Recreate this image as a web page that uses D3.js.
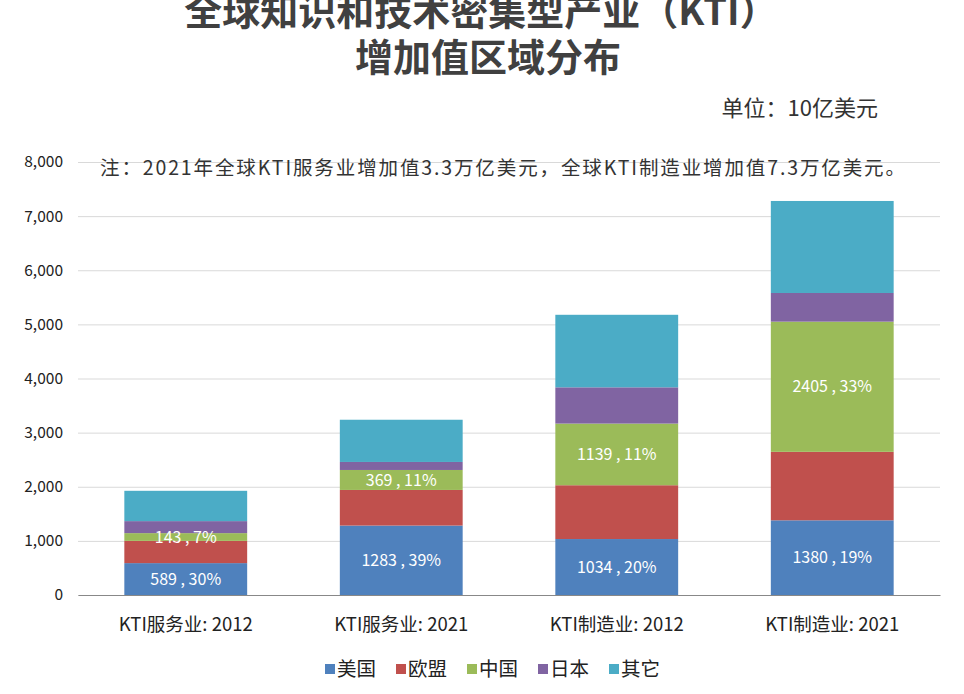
<!DOCTYPE html>
<html>
<head>
<meta charset="utf-8">
<script src="https://cdn.jsdelivr.net/npm/d3@7"></script>
<style>
  body { margin: 0; background: #fff; }
  text { font-family: "Noto Sans CJK SC", "Noto Sans", sans-serif; }
</style>
</head>
<body>
<div id="chart"></div>
<script>
// categories and series (unit: 10亿美元)
var categories = ["KTI服务业: 2012", "KTI服务业: 2021", "KTI制造业: 2012", "KTI制造业: 2021"];
var regions = ["美国", "欧盟", "中国", "日本", "其它"];
var usValues = [589, 1283, 1034, 1380];
var euValues = [411, 658, 994, 1265];
var cnValues = [143, 369, 1139, 2405];
var jpValues = [222, 148, 670, 530];
var otherValues = [560, 780, 1340, 1700];
var usShare = ["30%", "39%", "20%", "19%"];
var cnShare = ["7%", "11%", "11%", "33%"];
var yTicks = [0, 1000, 2000, 3000, 4000, 5000, 6000, 7000, 8000];
var colors = ["#4f81bd", "#c0504d", "#9bbb59", "#8064a2", "#4bacc6"];

var width = 964, height = 694;
var margin = { top: 162, bottom: 99, left: 78, right: 24 };

var svg = d3.select("#chart").append("svg")
    .attr("width", width)
    .attr("height", height);

// build table rows for the stack
var table = categories.map(function (c, i) {
    return { cat: c, "美国": usValues[i], "欧盟": euValues[i], "中国": cnValues[i], "日本": jpValues[i], "其它": otherValues[i] };
});

var x = d3.scaleBand()
    .domain(categories)
    .range([margin.left, width - margin.right])
    .paddingInner(0.43)
    .paddingOuter(0.215);
var y = d3.scaleLinear()
    .domain([0, 8000])
    .range([height - margin.bottom, margin.top]);
var color = d3.scaleOrdinal().domain(regions).range(colors);

// title
var title = svg.append("g").attr("fill", "#404040")
    .style("font-weight", "bold").style("font-size", "38px")
    .attr("text-anchor", "middle");
title.append("text").attr("x", 481).attr("y", 25).text("全球知识和技术密集型产业（KTI）");
title.append("text").attr("x", 488).attr("y", 71).text("增加值区域分布");

svg.append("text")
    .attr("x", 878).attr("y", 116)
    .attr("text-anchor", "end")
    .attr("fill", "#333")
    .style("font-size", "22px")
    .text("单位：10亿美元");

// grid lines
svg.append("g")
    .attr("class", "grid")
    .attr("transform", "translate(" + margin.left + ",0)")
    .call(d3.axisLeft(y).tickValues(yTicks).tickSize(-(width - margin.left - margin.right)).tickFormat(""))
    .call(function (g) { g.select(".domain").remove(); })
    .selectAll("line").attr("stroke", "#d9d9d9");

// y axis labels
svg.append("g")
    .attr("transform", "translate(" + margin.left + ",0)")
    .call(d3.axisLeft(y).tickValues(yTicks).tickSize(0).tickPadding(15).tickFormat(d3.format(",")))
    .call(function (g) { g.select(".domain").remove(); })
    .selectAll("text")
    .attr("fill", "#222")
    .style("font-size", "15.5px");

// note
svg.append("text")
    .attr("x", 100).attr("y", 175)
    .attr("fill", "#333")
    .style("font-size", "19.5px")
    .attr("textLength", 805)
    .attr("lengthAdjust", "spacing")
    .text("注：2021年全球KTI服务业增加值3.3万亿美元，全球KTI制造业增加值7.3万亿美元。");

// stacked bars
var series = d3.stack().keys(regions)(table);
var layers = svg.append("g").selectAll("g")
    .data(series)
    .enter().append("g")
    .attr("fill", function (d) { return color(d.key); });
layers.selectAll("rect")
    .data(function (d) { return d; })
    .enter().append("rect")
    .attr("x", function (d) { return x(d.data.cat); })
    .attr("y", function (d) { return y(d[1]); })
    .attr("width", x.bandwidth())
    .attr("height", function (d) { return y(d[0]) - y(d[1]); });

// data labels for 美国 and 中国
var labelSets = [
    { s: series[0], vals: usValues, pct: usShare },
    { s: series[2], vals: cnValues, pct: cnShare }
];
labelSets.forEach(function (ls) {
    svg.append("g").selectAll("text")
        .data(ls.s)
        .enter().append("text")
        .attr("x", function (d) { return x(d.data.cat) + x.bandwidth() / 2; })
        .attr("y", function (d) { return (y(d[0]) + y(d[1])) / 2; })
        .attr("dy", "0.35em")
        .attr("text-anchor", "middle")
        .attr("fill", "#fff")
        .style("font-size", "16px")
        .text(function (d, i) { return ls.vals[i] + " ,  " + ls.pct[i]; });
});

// x axis
svg.append("g")
    .attr("transform", "translate(0," + y(0) + ")")
    .call(d3.axisBottom(x).tickSize(0).tickPadding(23))
    .call(function (g) { g.select(".domain").attr("stroke", "#888"); })
    .selectAll("text")
    .attr("fill", "#222")
    .style("font-size", "18.5px");

// legend
var legend = svg.append("g").attr("transform", "translate(325,669)");
var item = legend.selectAll("g")
    .data(regions)
    .enter().append("g")
    .attr("transform", function (d, i) { return "translate(" + (i * 71) + ",0)"; });
item.append("rect")
    .attr("x", 0).attr("y", -5)
    .attr("width", 10).attr("height", 10)
    .attr("fill", function (d) { return color(d); });
item.append("text")
    .attr("x", 12).attr("dy", "0.35em")
    .attr("fill", "#222")
    .style("font-size", "19.5px")
    .text(function (d) { return d; });
</script>
</body>
</html>
